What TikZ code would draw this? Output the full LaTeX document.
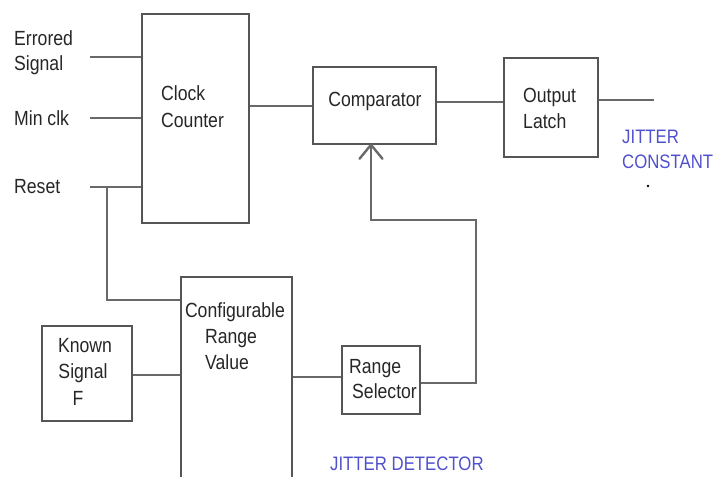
\documentclass[tikz,border=0pt]{standalone}
\usepackage{fontspec}
\usepackage{graphicx}
\setmainfont{Liberation Sans}
\usetikzlibrary{arrows.meta,calc}
\definecolor{boxc}{RGB}{85,85,85}
\definecolor{linec}{RGB}{105,105,105}
\definecolor{bluet}{RGB}{80,80,205}
\newcommand{\nt}[1]{\scalebox{0.86}[1]{#1}}
\tikzset{
  blk/.style={draw=boxc, line width=1.6pt, rectangle, inner sep=0pt},
  conn/.style={draw=linec, line width=2.4pt},
  txt/.style={inner sep=0pt, font=\fontsize{20.5}{25}\selectfont, text=black!85},
  bluetxt/.style={inner sep=0pt, font=\fontsize{19.5}{25}\selectfont, text=bluet}
}
\begin{document}
\begin{tikzpicture}[x=1pt,y=-1pt]
\useasboundingbox (0,0) rectangle (721,477);
% boxes
\node[blk, minimum width=107pt, minimum height=209pt] (cc) at (195.5,118.5) {};
\node[blk, minimum width=123pt, minimum height=77pt] (cmp) at (374.5,105.5) {};
\node[blk, minimum width=94pt, minimum height=99pt] (ol) at (551,107.5) {};
\node[blk, minimum width=111pt, minimum height=223pt] (crv) at (236.5,388.5) {};
\node[blk, minimum width=90pt, minimum height=95pt] (ks) at (87,373.5) {};
\node[blk, minimum width=78pt, minimum height=68pt] (rs) at (381,380) {};
% texts
\node[txt, anchor=base west] (t1) at (14,45) {\nt{Errored}};
\node[txt, anchor=base west] (t2) at (14,70) {\nt{Signal}};
\node[txt, anchor=base west] (t3) at (14,125) {\nt{Min clk}};
\node[txt, anchor=base west] (t4) at (14,193) {\nt{Reset}};
\node[txt, anchor=base west] (t5) at (161,100) {\nt{Clock}};
\node[txt, anchor=base west] (t6) at (161,127) {\nt{Counter}};
\node[txt, anchor=base] (t7) at (375,106) {\nt{Comparator}};
\node[txt, anchor=base west] (t8) at (523,102) {\nt{Output}};
\node[txt, anchor=base west] (t9) at (523,128) {\nt{Latch}};
\node[bluetxt, anchor=base west] (t10) at (622,143) {\nt{JITTER}};
\node[bluetxt, anchor=base west] (t11) at (622,168) {\nt{CONSTANT}};
\node[txt, anchor=base] (t12) at (235,317) {\nt{Configurable}};
\node[txt, anchor=base] (t13) at (231,343) {\nt{Range}};
\node[txt, anchor=base] (t14) at (227,369) {\nt{Value}};
\node[txt, anchor=base] (t15) at (85,352) {\nt{Known}};
\node[txt, anchor=base] (t16) at (83,378) {\nt{Signal}};
\node[txt, anchor=base] (t17) at (78,405) {\nt{F}};
\node[txt, anchor=base west] (t18) at (349,373) {\nt{Range}};
\node[txt, anchor=base west] (t19) at (352,398) {\nt{Selector}};
\node[bluetxt, anchor=base west] (t20) at (330,470) {\nt{JITTER DETECTOR}};
\fill[black] (648,186) circle (1.4pt);
% connector coordinates
\coordinate (ein) at (90,57);
\coordinate (min) at (90,118);
\coordinate (rin) at (90,187);
\coordinate (rbr) at (107,187);
\coordinate (rdn) at (107,300);
\coordinate (out) at (654,100);
\coordinate (fb1) at (476,383);
\coordinate (fb2) at (476,220);
\coordinate (fb3) at (371,220);
% connectors
\draw[conn] (ein) -- (cc.west |- ein);
\draw[conn] (min) -- (cc.west |- min);
\draw[conn] (rin) -- (cc.west |- rin);
\draw[conn] (rbr) -- (rdn) -- (crv.west |- rdn);
\draw[conn] (cc.east |- 0,106) -- (cmp.west |- 0,106);
\draw[conn] (cmp.east |- 0,102) -- (ol.west |- 0,102);
\draw[conn] (ol.east |- out) -- (out);
\draw[conn] (rs.east |- fb1) -- (fb1) -- (fb2) -- (fb3) -- ([yshift=-0.8pt]cmp.south -| fb3);
\draw[conn, line cap=round] ($(cmp.south -| fb3)+(-11.5,14)$) -- (cmp.south -| fb3) -- ($(cmp.south -| fb3)+(11.5,14)$);
\draw[conn] (ks.east |- 0,375) -- (crv.west |- 0,375);
\draw[conn] (crv.east |- 0,377) -- (rs.west |- 0,377);
\end{tikzpicture}
\end{document}
